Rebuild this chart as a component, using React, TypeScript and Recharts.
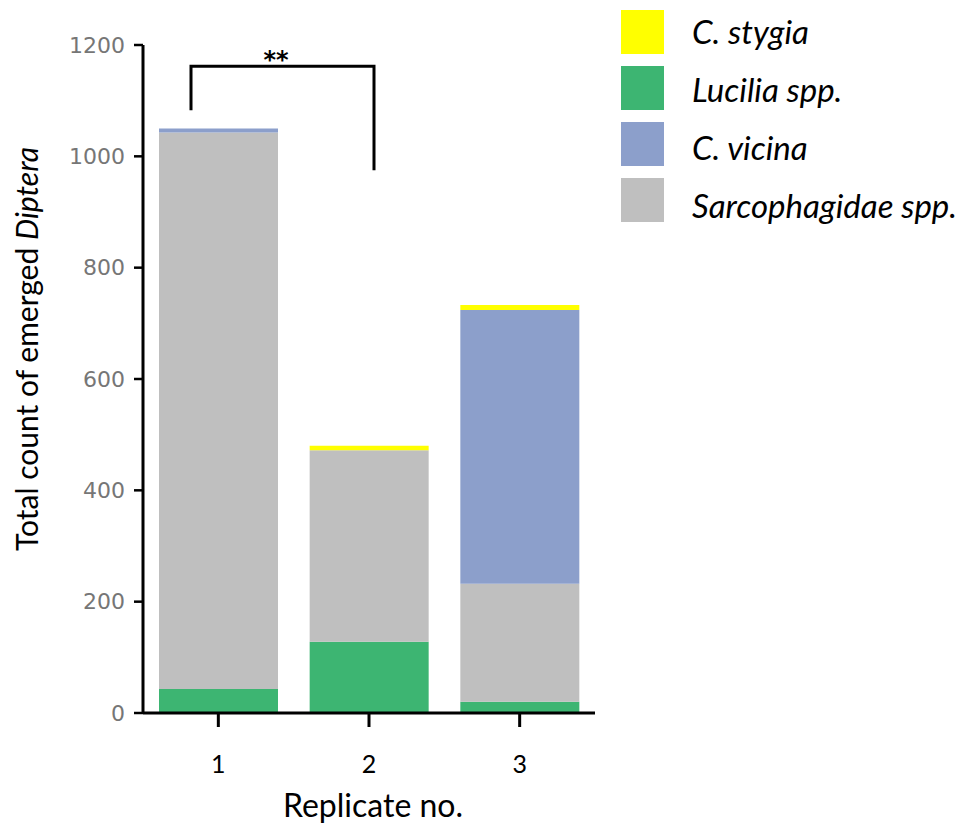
import { BarChart, Bar, XAxis, YAxis } from "recharts"

const replicates = ["1", "2", "3"]
const luciliaCounts = [43, 128, 20]
const sarcophagidaeCounts = [1000, 344, 212]
const vicinaCounts = [7, 0, 492]
const stygiaCounts = [0, 8, 9]
const yTicks = [0, 200, 400, 600, 800, 1000, 1200]

const legendNames = ["C. stygia", "Lucilia spp.", "C. vicina", "Sarcophagidae spp."]
const legendColors = ["#FFFF00", "#3DB572", "#8C9FCB", "#BFBFBF"]

// bracket between replicate 1 and 2, in data units
const bracketTop = 1162
const bracketLeftEnd = 1083
const bracketRightEnd = 975

const W = 965
const H = 823
const X_AXIS_H = 30
const M = { top: 45, right: 370, bottom: 110 - X_AXIS_H, left: 0 }
const Y_AXIS_W = 143
const Y_MAX = 1200

const data = replicates.map((r, i) => ({
  replicate: r,
  lucilia: luciliaCounts[i],
  sarco: sarcophagidaeCounts[i],
  vicina: vicinaCounts[i],
  stygia: stygiaCounts[i],
}))

const plotH = H - M.top - M.bottom - X_AXIS_H
const yPx = (v: number) => M.top + plotH * (1 - v / Y_MAX)

export default function App() {
  const sans = "Lato, 'Open Sans', sans-serif"
  return (
    <div style={{ position: "absolute", left: 0, top: 0, width: W, height: H, background: "#fff" }}>
      <BarChart width={W} height={H} data={data} margin={M} barSize={119}>
        <XAxis
          dataKey="replicate"
          height={X_AXIS_H}
          axisLine={{ stroke: "#000", strokeWidth: 3 }}
          tickLine={{ stroke: "#000", strokeWidth: 3 }}
          tickSize={14}
          tickMargin={28}
          tick={{ fill: "#000", fontSize: 25, fontFamily: sans }}
        />
        <YAxis
          width={Y_AXIS_W}
          domain={[0, Y_MAX]}
          ticks={yTicks}
          axisLine={{ stroke: "#000", strokeWidth: 3 }}
          tickLine={{ stroke: "#000", strokeWidth: 2.5 }}
          tickSize={9}
          tickMargin={9}
          tick={{ fill: "#767676", fontSize: 22, fontFamily: "'DejaVu Sans', sans-serif" }}
        />
        <Bar dataKey="lucilia" stackId="a" fill={legendColors[1]} isAnimationActive={false} />
        <Bar dataKey="sarco" stackId="a" fill={legendColors[3]} isAnimationActive={false} />
        <Bar dataKey="vicina" stackId="a" fill={legendColors[2]} isAnimationActive={false} />
        <Bar dataKey="stygia" stackId="a" fill={legendColors[0]} isAnimationActive={false} />
      </BarChart>
      <svg width={W} height={H} style={{ position: "absolute", left: 0, top: 0, pointerEvents: "none" }}>
        {/* significance bracket */}
        <polyline
          points={`191,${yPx(bracketLeftEnd)} 191,${yPx(bracketTop)} 374,${yPx(bracketTop)} 374,${yPx(bracketRightEnd)}`}
          fill="none"
          stroke="#000"
          strokeWidth={3}
        />
        <text
          x={276}
          y={yPx(bracketTop) + 2}
          textAnchor="middle"
          fontSize={24}
          fontWeight="bold"
          fontFamily="'DejaVu Sans', sans-serif"
        >
          **
        </text>
        {/* axis titles */}
        <text x={373} y={817} textAnchor="middle" fontSize={32} fontFamily={sans}>
          Replicate no.
        </text>
        <text transform="translate(38,349) rotate(-90)" textAnchor="middle" fontSize={30} fontFamily={sans}>
          Total count of emerged <tspan fontStyle="italic">Diptera</tspan>
        </text>
        {/* legend */}
        {legendNames.map((name, i) => (
          <g key={name}>
            <rect x={621} y={10 + i * 56} width={43} height={44} fill={legendColors[i]} />
            <text x={692} y={44 + i * 58} fontSize={33} fontStyle="italic" fontFamily={sans}>
              {name}
            </text>
          </g>
        ))}
      </svg>
    </div>
  )
}
